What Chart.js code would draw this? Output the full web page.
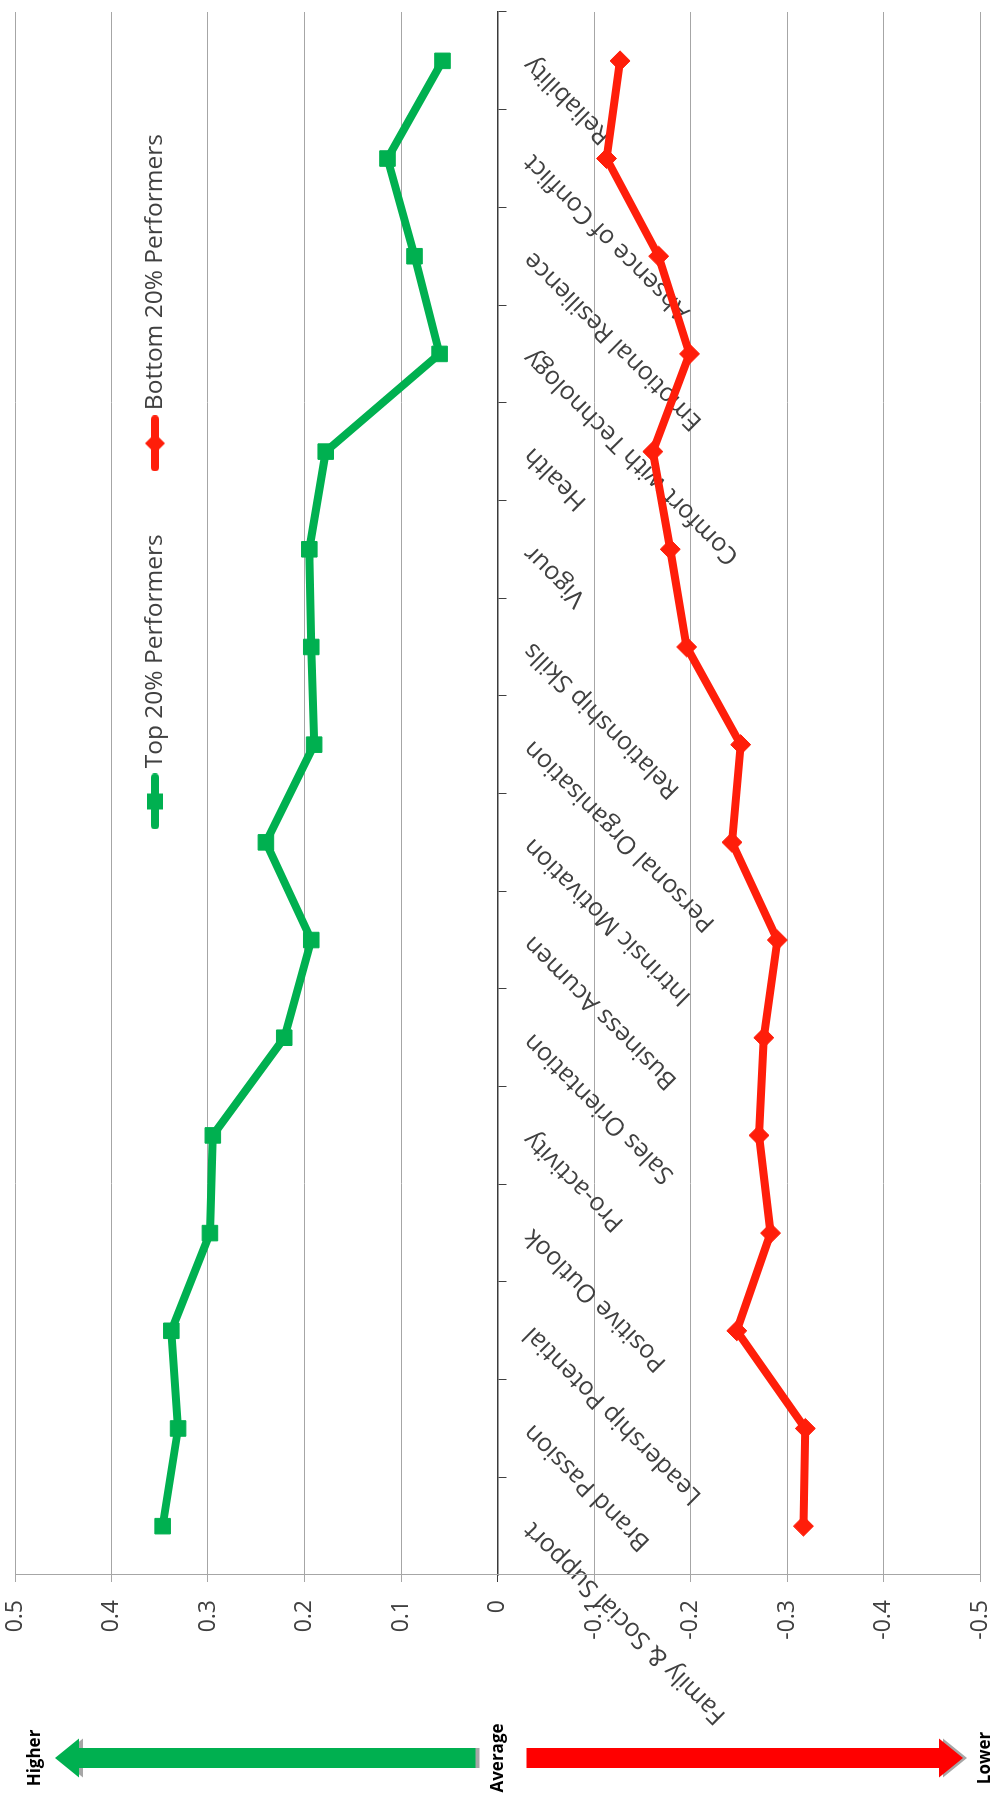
<!DOCTYPE html>
<html>
<head>
<meta charset="utf-8">
<script src="https://cdn.jsdelivr.net/npm/chart.js@4"></script>
<style>
  html, body { margin:0; padding:0; background:#ffffff; }
  body { width:996px; height:1796px; overflow:hidden; position:relative; }
  #wrap { position:absolute; left:0; top:0; width:1796px; height:996px;
          transform-origin:0 0; transform:translate(0px,1796px) rotate(-90deg); }
  canvas { display:block; }
</style>
</head>
<body>
<div id="wrap"><canvas id="c" width="1796" height="996"></canvas></div>
<script>
// ---- data ----
const categories = [
  'Family & Social Support', 'Brand Passion', 'Leadership Potential', 'Positive Outlook',
  'Pro-activity', 'Sales Orientation', 'Business Acumen', 'Intrinsic Motivation',
  'Personal Organisation', 'Relationship Skills', 'Vigour', 'Health',
  'Comfort with Technology', 'Emotional Resilience', 'Absence of Conflict', 'Reliability'
];
const topPerformers = [0.347, 0.331, 0.338, 0.298, 0.295, 0.221, 0.193, 0.240,
                       0.190, 0.193, 0.195, 0.178, 0.060, 0.086, 0.114, 0.057];
const bottomPerformers = [-0.317, -0.319, -0.248, -0.283, -0.271, -0.276, -0.290, -0.243,
                          -0.252, -0.196, -0.179, -0.161, -0.199, -0.167, -0.113, -0.127];
const seriesNames = ['Top 20% Performers', 'Bottom 20% Performers'];
const yTickValues = [0.5, 0.4, 0.3, 0.2, 0.1, 0, -0.1, -0.2, -0.3, -0.4, -0.5];
const yTickLabels = ['0.5', '0.4', '0.3', '0.2', '0.1', '0', '-0.1', '-0.2', '-0.3', '-0.4', '-0.5'];
const scaleLabels = ['Higher', 'Average', 'Lower'];

// ---- styling ----
const GREEN = '#00B050';
const RED = '#FF1E0A';
const TEXT = '#404040';
const FONT = '"Open Sans", "Noto Sans", sans-serif';
const LEGEND_FONT = 24.5;

function makeLegendIcon(color, shape) {
  const c = document.createElement('canvas');
  c.width = 56; c.height = 22;
  const g = c.getContext('2d');
  g.strokeStyle = color; g.fillStyle = color;
  g.lineWidth = 8; g.lineCap = 'round';
  g.beginPath(); g.moveTo(4, 11); g.lineTo(52, 11); g.stroke();
  if (shape === 'rect') {
    g.fillRect(28 - 8, 11 - 8, 16, 16);
  } else {
    g.beginPath(); g.moveTo(28, 1); g.lineTo(38, 11); g.lineTo(28, 21); g.lineTo(18, 11); g.closePath(); g.fill();
  }
  return c;
}
const legendIcons = [makeLegendIcon(GREEN, 'rect'), makeLegendIcon(RED, 'diamond')];

function arrowPath(ctx, cx, yBase, yTip, bodyHalf, headHalf, headLen) {
  const d = Math.sign(yTip - yBase);
  const yh = yTip - d * headLen;
  ctx.beginPath();
  ctx.moveTo(cx - bodyHalf, yBase);
  ctx.lineTo(cx - bodyHalf, yh);
  ctx.lineTo(cx - headHalf, yh);
  ctx.lineTo(cx, yTip);
  ctx.lineTo(cx + headHalf, yh);
  ctx.lineTo(cx + bodyHalf, yh);
  ctx.lineTo(cx + bodyHalf, yBase);
  ctx.closePath();
}

const sideArrows = {
  id: 'sideArrows',
  afterDraw(chart) {
    const ctx = chart.ctx;
    const ys = chart.scales.y;
    const cx = 38;
    const zero = ys.getPixelForValue(0);
    const top = ys.getPixelForValue(yTickValues[0]);
    const bot = ys.getPixelForValue(yTickValues[yTickValues.length - 1]);
    const arrows = [
      { base: zero - 22, tip: top + 40, color: '#00B050' },
      { base: zero + 29, tip: bot - 17, color: '#FF0000' }
    ];
    ctx.save();
    arrows.forEach(a => {
      ctx.save(); ctx.translate(0, 4);
      arrowPath(ctx, cx, a.base, a.tip, 10, 19.5, 24);
      ctx.fillStyle = '#A6A6A6'; ctx.fill();
      ctx.restore();
      arrowPath(ctx, cx, a.base, a.tip, 10, 19.5, 24);
      ctx.fillStyle = a.color; ctx.fill();
    });
    ctx.fillStyle = '#000000';
    ctx.font = 'bold 17px ' + FONT;
    ctx.textAlign = 'center';
    ctx.textBaseline = 'middle';
    ctx.fillText(scaleLabels[0], cx, top + 20);
    ctx.fillText(scaleLabels[1], cx, zero + 1);
    ctx.fillText(scaleLabels[2], cx, bot + 5);
    ctx.restore();
  }
};

// legend sits inside the plot area, laid out in one row
const legendPlace = {
  id: 'legendPlace',
  beforeLayout(chart) {
    if (chart.legend) chart.legend.isHorizontal = () => true;
  },
  afterLayout(chart) {
    const lg = chart.legend;
    if (!lg) return;
    const pad = lg.options.labels.padding;
    const h = lg.height;
    lg.left = 973.5 - pad;
    lg.right = chart.chartArea.right;
    lg.width = lg.right - lg.left;
    lg.top = 155 - pad - LEGEND_FONT / 2;
    lg.bottom = lg.top + h;
  }
};

new Chart(document.getElementById('c'), {
  type: 'line',
  data: {
    labels: categories,
    datasets: [
      {
        label: seriesNames[0], data: topPerformers,
        borderColor: GREEN, backgroundColor: GREEN, borderWidth: 8,
        pointStyle: 'rect', pointRadius: 11, pointBorderWidth: 1,
        pointBackgroundColor: GREEN, pointBorderColor: GREEN, tension: 0
      },
      {
        label: seriesNames[1], data: bottomPerformers,
        borderColor: RED, backgroundColor: RED, borderWidth: 8,
        pointStyle: 'rectRot', pointRadius: 10, pointBorderWidth: 1,
        pointBackgroundColor: RED, pointBorderColor: RED, tension: 0
      }
    ]
  },
  options: {
    responsive: false,
    animation: false,
    devicePixelRatio: 1,
    layout: { padding: { left: 0, top: 15, right: 10, bottom: 16 } },
    plugins: {
      legend: {
        position: 'chartArea', align: 'start',
        labels: {
          font: { family: FONT, size: LEGEND_FONT }, color: TEXT,
          padding: 70, usePointStyle: true, pointStyleWidth: 42,
          generateLabels(chart) {
            return chart.data.datasets.map((ds, i) => ({
              text: ds.label, pointStyle: legendIcons[i], datasetIndex: i,
              fillStyle: ds.borderColor, strokeStyle: ds.borderColor, lineWidth: 0,
              hidden: false, fontColor: TEXT
            }));
          }
        }
      },
      tooltip: { enabled: false }
    },
    scales: {
      x: {
        type: 'category',
        position: { y: 0 },
        offset: true,
        grid: { display: true, drawOnChartArea: false, drawTicks: true, tickLength: 8,
                offset: true, color: '#404040', lineWidth: 1 },
        border: { display: true, color: '#3A3A3A', width: 1.5 },
        ticks: { autoSkip: false, minRotation: 45, maxRotation: 45, padding: 12,
                 color: TEXT, font: { family: FONT, size: 25 } },
        afterFit(s) { s.height = 0; s.paddingLeft = 0; s.paddingRight = 0; }
      },
      y: {
        type: 'linear', position: 'left', min: -0.5, max: 0.5,
        afterBuildTicks(s) { s.ticks = yTickValues.map(v => ({ value: v })); },
        ticks: {
          padding: 18, color: TEXT, font: { family: FONT, size: 23 },
          callback(value) { const i = yTickValues.indexOf(value); return i >= 0 ? yTickLabels[i] : ''; }
        },
        grid: {
          drawTicks: true, tickLength: 7, lineWidth: 1,
          color: (c) => (c.tick && c.tick.value === 0) ? '#3A3A3A' : '#A6A6A6'
        },
        border: { display: true, color: '#A6A6A6', width: 1 },
        afterFit(s) { s.width = 221; s.paddingTop = 0; s.paddingBottom = 0; }
      }
    }
  },
  plugins: [legendPlace, sideArrows]
});
</script>
</body>
</html>
